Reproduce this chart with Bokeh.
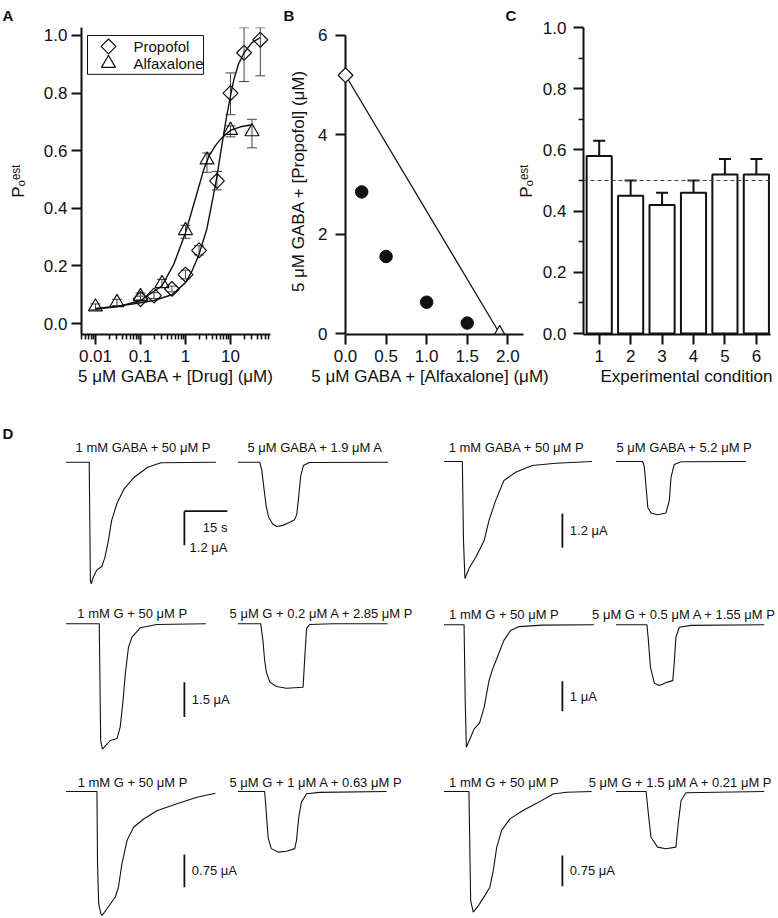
import numpy as np
from bokeh.plotting import figure
from bokeh.models import (Range1d, ColumnDataSource, Whisker, TeeHead, Title,
                          FixedTicker, Span, PrintfTickFormatter)
from bokeh.layouts import row, column
from bokeh.core.properties import value
from bokeh.embed import file_html
from bokeh.resources import INLINE

FONT = "Liberation Sans"
INK = "#111111"
ERR = "#444444"

# ===================== DATA =====================
# ---- Panel A : concentration-response ----
prop_conc = [0.1, 0.2, 0.5, 1.0, 2.0, 5.0, 10.0, 20.0, 46.0]
prop_po   = [0.085, 0.097, 0.12, 0.17, 0.254, 0.495, 0.80, 0.94, 0.985]
prop_lo   = [0.075, 0.087, 0.11, 0.155, 0.238, 0.464, 0.725, 0.84, 0.86]
prop_hi   = [0.095, 0.107, 0.13, 0.185, 0.27, 0.528, 0.87, 1.027, 1.027]
alfa_conc = [0.01, 0.03, 0.1, 0.3, 1.0, 3.0, 10.0, 30.0]
alfa_po   = [0.058, 0.073, 0.094, 0.139, 0.323, 0.568, 0.671, 0.666]
alfa_lo   = [0.048, 0.062, 0.082, 0.125, 0.296, 0.525, 0.648, 0.61]
alfa_hi   = [0.068, 0.084, 0.106, 0.153, 0.341, 0.592, 0.686, 0.709]
# fitted curves
prop_fit_conc = [0.01, 0.03, 0.1, 0.2, 0.5, 1.0, 1.4, 2.0, 3.0, 4.0, 5.0, 6.0, 8.0, 10.0, 12.0, 15.0, 20.0, 30.0, 46.0]
prop_fit_po   = [0.052, 0.06, 0.072, 0.08, 0.10, 0.142, 0.183, 0.24, 0.33, 0.43, 0.51, 0.59, 0.71, 0.79, 0.85, 0.90, 0.94, 0.975, 0.993]
alfa_fit_conc = [0.01, 0.03, 0.1, 0.3, 0.55, 1.0, 1.67, 2.55, 3.3, 4.5, 6.0, 10.0, 16.7, 30.0]
alfa_fit_po   = [0.05, 0.058, 0.08, 0.131, 0.206, 0.315, 0.435, 0.535, 0.58, 0.615, 0.64, 0.671, 0.683, 0.69]
legend_names = ["Propofol", "Alfaxalone"]

# ---- Panel B : isobologram ----
mix_alfa = [0.2, 0.5, 1.0, 1.5]
mix_prop = [2.85, 1.55, 0.63, 0.21]
prop_alone_alfa, prop_alone_prop = [0.0], [5.2]
alfa_alone_alfa, alfa_alone_prop = [1.9], [0.0]

# ---- Panel C : bars ----
cond = [1, 2, 3, 4, 5, 6]
cond_po = [0.58, 0.45, 0.42, 0.46, 0.52, 0.52]
cond_err = [0.05, 0.05, 0.04, 0.04, 0.05, 0.05]
ref_po = 0.5

# ---- Panel D : current traces (time s, current uA) ----
c1_t1 = [0, 8.1, 8.5, 8.8, 9.5, 10.8, 12.5, 13.6, 14.8, 15.9, 17.8, 20.3, 23.8, 28.5, 33.1, 52.3]
c1_i1 = [0, 0, -4.18, -4.29, -4.06, -3.80, -3.68, -3.35, -2.76, -2.06, -1.45, -0.94, -0.53, -0.18, -0.02, 0]
c1_t2 = [0, 7.6, 8.3, 9.0, 9.8, 10.7, 12.1, 13.5, 15.6, 17.9, 19.7, 20.5, 21.2, 21.9, 22.8, 24.9, 52.4]
c1_i2 = [0, 0, -0.29, -0.88, -1.53, -1.94, -2.18, -2.27, -2.23, -2.13, -2.03, -1.85, -1.18, -0.47, -0.12, -0.01, 0]

c2_t1 = [0, 6.4, 6.8, 7.3, 8.7, 11.1, 14.0, 15.7, 18.0, 20.9, 25.0, 30.7, 39.0, 51.6]
c2_i1 = [0, 0, -2.79, -4.13, -3.78, -3.38, -2.79, -2.08, -1.38, -0.67, -0.38, -0.14, -0.06, 0]
c2_t2 = [0, 9.3, 9.9, 10.5, 11.1, 12.2, 14.5, 17.4, 18.6, 19.2, 20.3, 22.7, 45.3]
c2_i2 = [0, 0, -0.20, -0.91, -1.62, -1.82, -1.88, -1.82, -1.38, -0.55, -0.11, -0.01, 0]

c3_t1 = [0, 11.6, 12.1, 12.7, 15.5, 17.8, 18.9, 19.9, 20.7, 21.8, 23.0, 25.9, 31.7, 48.8]
c3_i1 = [0, 0, -5.0, -5.37, -5.0, -4.92, -4.43, -3.29, -2.14, -1.0, -0.57, -0.17, -0.03, 0]
c3_t2 = [0, 7.9, 8.7, 9.3, 9.9, 11.1, 13.4, 16.9, 22.7, 23.3, 23.9, 25.0, 33.1, 52.2]
c3_i2 = [0, 0, -0.72, -1.57, -2.07, -2.50, -2.69, -2.76, -2.72, -1.43, -0.21, -0.03, 0, 0]

c4_t1 = [0, 7.0, 7.4, 7.8, 9.3, 10.5, 12.4, 14.0, 15.7, 16.8, 18.6, 20.9, 23.2, 26.2, 34.3, 52.3]
c4_i1 = [0, 0, -2.52, -4.08, -3.75, -3.47, -3.28, -2.75, -1.86, -1.52, -1.08, -0.52, -0.19, -0.06, -0.01, 0]
c4_t2 = [0, 10.8, 11.3, 12.0, 13.4, 15.1, 18.0, 19.8, 20.3, 20.9, 22.1, 26.2, 51.7]
c4_i2 = [0, 0, -0.52, -1.41, -1.95, -2.02, -1.91, -1.86, -1.30, -0.41, -0.08, -0.02, 0]

c5_t1 = [0, 10.8, 11.0, 11.4, 12.2, 12.6, 14.3, 17.2, 18.3, 19.5, 21.3, 23.6, 27.1, 31.7, 38.7, 45.7, 52.1]
c5_i1 = [0, 0, -1.66, -2.58, -2.81, -2.84, -2.69, -2.42, -2.19, -1.66, -1.12, -0.82, -0.63, -0.44, -0.28, -0.13, -0.04]
c5_t2 = [0, 9.3, 9.9, 10.5, 11.6, 14.0, 16.9, 19.8, 20.4, 21.2, 22.1, 23.9, 28.5, 51.8]
c5_i2 = [0, 0, -0.51, -1.05, -1.31, -1.39, -1.37, -1.31, -1.12, -0.59, -0.25, -0.05, -0.02, 0]

c6_t1 = [0, 8.7, 9.1, 9.3, 10.2, 12.0, 14.3, 16.0, 17.2, 18.4, 20.1, 23.0, 27.7, 32.3, 38.1, 42.8, 51.5]
c6_i1 = [0, 0, -1.77, -2.67, -2.95, -2.79, -2.54, -2.34, -1.93, -1.36, -0.95, -0.67, -0.46, -0.29, -0.06, -0.02, 0]
c6_t2 = [0, 10.5, 11.3, 12.2, 14.5, 17.4, 20.9, 21.7, 22.7, 24.4, 51.7]
c6_i2 = [0, 0, -0.55, -1.12, -1.36, -1.40, -1.36, -0.79, -0.22, -0.03, 0]

trace_labels = [
    ["1 mM GABA + 50 \u03bcM P", "5 \u03bcM GABA + 1.9 \u03bcM A"],
    ["1 mM GABA + 50 \u03bcM P", "5 \u03bcM GABA + 5.2 \u03bcM P"],
    ["1 mM G + 50 \u03bcM P", "5 \u03bcM G + 0.2 \u03bcM A + 2.85 \u03bcM P"],
    ["1 mM G + 50 \u03bcM P", "5 \u03bcM G + 0.5 \u03bcM A + 1.55 \u03bcM P"],
    ["1 mM G + 50 \u03bcM P", "5 \u03bcM G + 1 \u03bcM A + 0.63 \u03bcM P"],
    ["1 mM G + 50 \u03bcM P", "5 \u03bcM G + 1.5 \u03bcM A + 0.21 \u03bcM P"],
]
scale_uA = [1.2, 1.2, 1.5, 1.0, 0.75, 0.75]
scale_uA_text = ["1.2 \u03bcA", "1.2 \u03bcA", "1.5 \u03bcA", "1 \u03bcA", "0.75 \u03bcA", "0.75 \u03bcA"]
scale_s = 15
scale_s_text = "15 s"

PO_LABEL = "P\u2092\u1d49\u02e2\u1d57"

# ===================== HELPERS =====================
FRAME_TOP, FRAME_BOTTOM, TOP_H = 26, 334, 398


def px2data(px, p0, p1, v0, v1, log=False):
    if log:
        a, b = np.log10(v0), np.log10(v1)
        return float(10 ** (a + (px - p0) * (b - a) / (p1 - p0)))
    return v0 + (px - p0) * (v1 - v0) / (p1 - p0)


def make_fig(canvas_left, width, frame_lr, xr, yr, letter, letter_px, x_log=False, **kw):
    fl, fr = frame_lr
    p = figure(width=width, height=TOP_H, x_range=Range1d(*xr), y_range=Range1d(*yr),
               x_axis_type="log" if x_log else "linear",
               output_backend="svg", toolbar_location=None, title=None,
               min_border_left=fl - canvas_left, min_border_right=canvas_left + width - fr,
               min_border_top=FRAME_TOP, min_border_bottom=TOP_H - FRAME_BOTTOM, **kw)
    p.grid.visible = False
    p.outline_line_color = None
    for ax in p.axis:
        ax.axis_line_color = INK
        ax.axis_line_width = 2
        ax.major_tick_line_color = INK
        ax.major_tick_line_width = 2
        ax.major_tick_out = 10
        ax.major_tick_in = 0
        ax.minor_tick_line_color = INK
        ax.minor_tick_line_width = 1.5
        ax.minor_tick_out = 5
        ax.minor_tick_in = 0
        ax.major_label_text_font = FONT
        ax.major_label_text_font_size = "17px"
        ax.major_label_text_color = INK
        ax.major_label_standoff = 5
        ax.axis_label_text_font = FONT
        ax.axis_label_text_font_size = "17px"
        ax.axis_label_text_font_style = "normal"
        ax.axis_label_text_color = INK
        ax.axis_label_standoff = 2
    p.add_layout(Title(text=letter, align="left", offset=letter_px - fl, standoff=8,
                       text_font=FONT, text_font_size="15px", text_font_style="bold",
                       text_color=INK), "above")
    return p


# ===================== PANEL A =====================
FA = (81, 270)
XA = (0.00489, 77.4)
YA = (-11 / 289, 1 + 8 / 289)
pA = make_fig(0, 276, FA, XA, YA, "A", 2, x_log=True)
minorA = [m * 10.0 ** e for e in range(-3, 2) for m in range(2, 10)
          if XA[0] <= m * 10.0 ** e <= XA[1]]
pA.xaxis.ticker = FixedTicker(ticks=[0.01, 0.1, 1, 10], minor_ticks=minorA)
pA.xaxis.formatter = PrintfTickFormatter(format="%g")
pA.xaxis.axis_label = "5 \u03bcM GABA + [Drug] (\u03bcM)"
pA.yaxis.ticker = FixedTicker(ticks=[0, 0.2, 0.4, 0.6, 0.8, 1.0])
pA.yaxis.formatter = PrintfTickFormatter(format="%.1f")
pA.yaxis.major_label_standoff = 4
pA.yaxis.axis_label = PO_LABEL
pA.yaxis.axis_label_standoff = 13

srcP = ColumnDataSource(dict(x=prop_conc, y=prop_po, lo=prop_lo, hi=prop_hi))
srcA = ColumnDataSource(dict(x=alfa_conc, y=alfa_po, lo=alfa_lo, hi=alfa_hi))
for src in (srcP, srcA):
    pA.add_layout(Whisker(source=src, base="x", lower="lo", upper="hi", dimension="height",
                          line_color=ERR, line_width=1,
                          upper_head=TeeHead(size=10, line_color=ERR, line_width=1),
                          lower_head=TeeHead(size=10, line_color=ERR, line_width=1)))
pA.line(prop_fit_conc, prop_fit_po, line_color=INK, line_width=1.4)
pA.line(alfa_fit_conc, alfa_fit_po, line_color=INK, line_width=1.4)
DIAMOND = dict(marker="square", angle=np.pi / 4, size=10.5)
TRIANGLE = dict(marker="triangle", size=14)
pA.scatter("x", "y", source=srcP, line_color=INK, line_width=1.2, fill_color=None, **DIAMOND)
pA.scatter("x", "y", source=srcA, line_color=INK, line_width=1.2, fill_color=None, **TRIANGLE)

# legend box (drawn from pixel layout of the panel)
def ax_(px):
    return px2data(px, FA[0], FA[1], XA[0], XA[1], True)


def ay_(py):
    return px2data(py, FRAME_BOTTOM, FRAME_TOP, YA[0], YA[1])


pA.quad(left=[ax_(87)], right=[ax_(203)], top=[ay_(34)], bottom=[ay_(73)],
        fill_color="white", line_color=INK, line_width=1)
pA.scatter([ax_(108)], [ay_(45)], line_color=INK, line_width=1.2, fill_color=None, **DIAMOND)
pA.scatter([ax_(108)], [ay_(62)], line_color=INK, line_width=1.2, fill_color=None, **TRIANGLE)
pA.text(x=[ax_(133), ax_(133)], y=[ay_(45), ay_(62)], text=legend_names,
        text_font=value(FONT), text_font_size=value("15px"), text_color=INK,
        text_align="left", text_baseline="middle")

# ===================== PANEL B =====================
FB = (337, 523)
XB = ((337 - 345) / 81.15, (523 - 345) / 81.15)
YB = (-1 / 49.83, 6 + 8 / 49.83)
pB = make_fig(276, 276, FB, XB, YB, "B", 283)
pB.xaxis.ticker = FixedTicker(ticks=[0, 0.5, 1.0, 1.5, 2.0])
pB.xaxis.formatter = PrintfTickFormatter(format="%.1f")
pB.xaxis.bounds = (0, XB[1])
pB.xaxis.axis_label = "5 \u03bcM GABA + [Alfaxalone] (\u03bcM)"
pB_yticks = [0, 2, 4, 6]
pB.yaxis.ticker = FixedTicker(ticks=pB_yticks)
pB.yaxis.formatter = PrintfTickFormatter(format="%g")
pB.yaxis.axis_line_color = None
pB.yaxis.major_tick_in = 8
pB.yaxis.major_tick_out = 2
pB.yaxis.major_label_standoff = 8
pB.yaxis.axis_label = "5 \u03bcM GABA + [Propofol] (\u03bcM)"
pB.yaxis.axis_label_standoff = 7
# y-axis line sits at x = 0 (the origin of the isobologram)
pB.segment(x0=[0], y0=[YB[0]], x1=[0], y1=[max(pB_yticks)], line_color=INK, line_width=2)
pB.line(prop_alone_alfa + alfa_alone_alfa, prop_alone_prop + alfa_alone_prop,
        line_color=INK, line_width=1.3)
pB.scatter(mix_alfa, mix_prop, marker="circle", size=12.5, fill_color=INK, line_color=INK)
pB.scatter(prop_alone_alfa, prop_alone_prop, fill_color="white", line_color=INK,
           line_width=1.2, **DIAMOND)
pB.scatter(alfa_alone_alfa, alfa_alone_prop, fill_color="white", line_color=INK,
           line_width=1.2, **TRIANGLE)

# ===================== PANEL C =====================
FC = (583, 770)
XC = (0.5, 6.45)
YC = (-1 / 307, 1.0)
pC = make_fig(500, 278, FC, XC, YC, "C", 505, margin=(0, 0, 0, -52))
pC.background_fill_color = None
pC.border_fill_color = None
pC.yaxis.ticker = FixedTicker(ticks=[0, 0.2, 0.4, 0.6, 0.8, 1.0],
                              minor_ticks=[0.1, 0.3, 0.5, 0.7, 0.9])
pC.yaxis.formatter = PrintfTickFormatter(format="%.1f")
pC.yaxis.major_label_standoff = 7
pC.yaxis.axis_label = PO_LABEL
pC.yaxis.axis_label_standoff = 4
pC.xaxis.ticker = FixedTicker(ticks=cond)
pC.xaxis.formatter = PrintfTickFormatter(format="%d")
pC.xaxis.axis_label = "\u00a0\u00a0\u00a0\u00a0Experimental condition"
srcC = ColumnDataSource(dict(x=cond, top=cond_po,
                             up=[v + e for v, e in zip(cond_po, cond_err)]))
pC.vbar(x="x", top="top", source=srcC, width=0.8, fill_color="white",
        line_color=INK, line_width=2)
pC.add_layout(Whisker(source=srcC, base="x", lower="top", upper="up", dimension="height",
                      line_color=INK, line_width=2, lower_head=None,
                      upper_head=TeeHead(size=12, line_color=INK, line_width=2)))
pC.add_layout(Span(location=ref_po, dimension="width", line_color="#444444",
                   line_width=1, line_dash="4 3"))

# ===================== PANEL D =====================
D_W = 778
PX_PER_S = 43 / 15.0          # 15 s scale bar = 43 px
T0_PX = (65.5, 443.5)          # onset of first trace from canvas left, per column
T2_OFFSET = 60.0               # second trace starts 60 s after the first
BAR_T = 41.3

cells = [
    dict(t1=c1_t1, i1=c1_i1, t2=c1_t2, i2=c1_i2, lab_t=(27.0, 87.0), base_px=63.7, ppu=28.33, lab_px=14.5, bar_top=-1.73),
    dict(t1=c2_t1, i1=c2_i1, t2=c2_t2, i2=c2_i2, lab_t=(25.3, 83.9), base_px=63.0, ppu=28.33, lab_px=14.5, bar_top=-1.84),
    dict(t1=c3_t1, i1=c3_i1, t2=c3_t2, i2=c3_i2, lab_t=(23.1, 89.2), base_px=27.3, ppu=23.33, lab_px=10.8, bar_top=-2.50),
    dict(t1=c4_t1, i1=c4_i1, t2=c4_t2, i2=c4_i2, lab_t=(20.9, 83.8), base_px=28.3, ppu=30.0, lab_px=10.8, bar_top=-1.88),
    dict(t1=c5_t1, i1=c5_i1, t2=c5_t2, i2=c5_i2, lab_t=(23.2, 87.3), base_px=28.0, ppu=43.6, lab_px=9.3, bar_top=-1.445),
    dict(t1=c6_t1, i1=c6_i1, t2=c6_t2, i2=c6_i2, lab_t=(20.9, 82.6), base_px=28.0, ppu=40.9, lab_px=9.3, bar_top=-1.565),
]
ROW_H = [198, 167, 155]


def yrange(cell, H):
    top = cell["base_px"] / cell["ppu"]
    return (top - H / cell["ppu"], top)


def xrange_col(col):
    x0 = -T0_PX[col] / PX_PER_S
    return (x0, x0 + D_W / PX_PER_S)


def dtext(p, x, y, text, rn, align="center", size="13px", bold=False):
    p.text(x=x, y=y, text=text, x_range_name=rn, y_range_name=rn,
           text_font=value(FONT), text_font_size=value(size), text_color=INK,
           text_align=align, text_baseline="middle",
           text_font_style="bold" if bold else "normal")


def draw_cell(p, k, rn):
    c = cells[k]
    kw = dict(x_range_name=rn, y_range_name=rn)
    p.line(c["t1"], c["i1"], line_color=INK, line_width=1.1, **kw)
    p.line([t + T2_OFFSET for t in c["t2"]], c["i2"], line_color=INK, line_width=1.1, **kw)
    ly = c["lab_px"] / c["ppu"]
    dtext(p, list(c["lab_t"]), [ly, ly], trace_labels[k], rn)
    bt, s = c["bar_top"], scale_uA[k]
    p.line([BAR_T, BAR_T], [bt, bt - s], line_color=INK, line_width=1.8, **kw)
    if k == 0:
        p.line([BAR_T, BAR_T + scale_s], [bt, bt], line_color=INK, line_width=1.8, **kw)
        dtext(p, [BAR_T + scale_s], [bt - 0.59], [scale_s_text], rn, align="right")
        dtext(p, [BAR_T + scale_s], [bt - 1.28], [scale_uA_text[k]], rn, align="right")
    else:
        dtext(p, [BAR_T + 2.6], [bt - s / 2], [scale_uA_text[k]], rn, align="left")


row_figs = []
for r, H in enumerate(ROW_H):
    left, right = cells[2 * r], cells[2 * r + 1]
    p = figure(width=D_W, height=H, x_range=Range1d(*xrange_col(0)),
               y_range=Range1d(*yrange(left, H)), x_axis_location=None, y_axis_location=None,
               output_backend="svg", toolbar_location=None, title=None,
               min_border_left=0, min_border_right=0, min_border_top=0, min_border_bottom=0)
    p.extra_x_ranges = {"r": Range1d(*xrange_col(1))}
    p.extra_y_ranges = {"r": Range1d(*yrange(right, H))}
    p.grid.visible = False
    p.outline_line_color = None
    draw_cell(p, 2 * r, "default")
    draw_cell(p, 2 * r + 1, "r")
    if r == 0:
        x0 = xrange_col(0)[0]
        top = yrange(left, H)[1]
        dtext(p, [x0 + 2 / PX_PER_S], [top - 34.5 / left["ppu"]], ["D"], "default",
              align="left", size="15px", bold=True)
    row_figs.append(p)

layout = column(row(pA, pB, pC), *row_figs)
open("out.html", "w").write(file_html(layout, INLINE))
